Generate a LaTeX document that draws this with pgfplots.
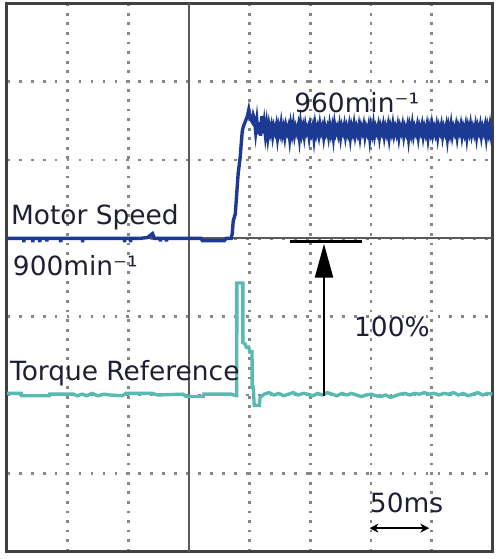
\documentclass[border=0pt]{standalone}
\usepackage{pgfplots}
\pgfplotsset{compat=1.18}
\usepackage{fontspec}
\setmainfont{DejaVu Sans}
\usetikzlibrary{arrows.meta}
\definecolor{spd}{RGB}{28,58,148}
\definecolor{trq}{RGB}{88,186,176}
\definecolor{frm}{RGB}{65,65,65}
\definecolor{ctr}{RGB}{90,90,90}
\definecolor{grd}{RGB}{135,135,135}
\definecolor{txt}{RGB}{30,32,50}
\newcommand\lf{\fontsize{26.5}{31}\selectfont}
\tikzset{lbl/.style={font=\lf, text=txt, inner sep=0pt, anchor=base west}}
\begin{document}
\begin{tikzpicture}
\begin{axis}[
  scale only axis, width=487pt, height=550pt,
  xmin=0, xmax=400, ymin=0, ymax=7,
  xtick={0,50,...,400}, ytick={0,1,...,7},
  xticklabels={}, yticklabels={},
  major tick length=0pt,
  grid=major,
  x grid style={grd, line width=2.8pt, dash pattern=on 2.8pt off 6.8pt},
  y grid style={grd, line width=2.8pt, dash pattern=on 2.8pt off 9.2pt},
  axis line style={frm, line width=3pt},
  clip=false,
]
% solid centre lines
\draw[ctr, line width=2.2pt] (axis cs:150,0) -- (axis cs:150,7);
\draw[ctr, line width=2.2pt] (axis cs:0,4) -- (axis cs:400,4);

% Torque reference
\addplot[trq, line width=3.4pt, mark=none] coordinates {
(0,2.02)(12,2.02)(12.3,1.99)(35,1.99)(35.3,2.01)(55,2.01)(58,1.99)(62,2.01)(66,1.99)(70,2.02)(75,1.99)(80,2.01)(85,2.00)(95,1.99)(98,2.02)(120,2.02)(124,2.00)(145,2.01)(148,1.98)(162,1.98)(162.3,2.01)(185,2.01)(189,1.99)(189.4,1.99)
(189.5,3.43)(194.4,3.43)(194.5,2.67)(196.4,2.65)(197.2,2.61)(199.3,2.61)(200.1,2.55)(202.0,2.55)(202.1,2.10)(203.0,2.10)(203.8,1.865)(207.9,1.865)(208.7,1.97)(210.3,1.99)
(212,2.01)(216,2.03)(220,2.00)(224,2.02)(228,1.99)(232,2.01)(236,2.03)(240,2.00)(244,2.02)(248,2.01)(252,1.99)(256,2.02)(260,2.00)(264,2.03)(268,2.01)(272,1.99)(276,2.02)(280,2.00)(284,2.02)(288,2.00)(292,1.98)(296,2.00)(300,2.01)(304,1.99)(308,1.98)(312,2.00)(316,1.97)(320,1.99)(324,2.01)(328,2.02)(332,2.00)(336,2.02)(340,2.01)(344,2.03)(348,2.01)(352,2.02)(356,2.00)(360,2.02)(364,2.01)(368,2.03)(372,2.00)(376,2.02)(380,1.99)(384,2.01)(388,2.03)(392,2.00)(396,2.02)(400,2.01)
};

% Motor speed
\addplot[spd, line width=3.4pt, mark=none] coordinates {
(0,4.0)(13.8,4.0)(14.0,3.95)(14.3,4.0)(21.2,4.0)(21.4,3.95)(21.7,4.0)(26.9,4.0)(27.1,3.95)(27.4,4.0)(32.7,4.0)(32.9,3.96)(33.2,4.0)(44.2,4.0)(44.4,3.95)(44.7,4.0)(62.2,4.0)(62.4,3.95)(62.7,4.0)(96.8,4.0)(97.0,3.95)(97.3,4.0)(101.7,4.0)(101.9,3.95)(102.2,4.0)(110,4.0)(115.9,4.01)(120.0,4.06)(121.6,4.0)(126.3,4.0)(126.5,3.96)(126.8,4.0)(131.3,4.0)(131.5,3.96)(131.8,4.0)(160,4.0)(161.1,3.97)(179.1,3.97)(180.8,4.0)(184.9,4.0)
(185.7,4.06)(186.5,4.22)(188.2,4.31)(189.8,4.66)(190.6,4.83)(192.3,5.04)(193.1,5.21)(193.9,5.36)(194.7,5.42)(196.4,5.49)(198.0,5.55)(199.3,5.64)(200.5,5.53)(202.1,5.49)(203.0,5.57)
(204.0,5.52)(205.0,5.36)(206.0,5.50)(207.0,5.33)(208.0,5.48)(209.0,5.31)(210.0,5.56)(211.0,5.34)(212.0,5.47)(213.0,5.32)(214.0,5.45)(215.0,5.30)(216.0,5.44)(217.0,5.35)(218.0,5.43)(219.0,5.31)(220.0,5.42)(221.0,5.36)(222.0,5.44)(223.0,5.29)(224.0,5.42)(225.0,5.35)(226.0,5.46)(227.0,5.33)(228.0,5.41)(229.0,5.30)(230.0,5.43)(231.0,5.36)(232.0,5.42)(233.0,5.28)(234.0,5.44)(235.0,5.34)(236.0,5.45)(237.0,5.32)(238.0,5.41)(239.0,5.35)(240.0,5.43)(241.0,5.29)(242.0,5.46)(243.0,5.34)(244.0,5.42)(245.0,5.31)(246.0,5.44)(247.0,5.36)(248.0,5.41)(249.0,5.30)(250.0,5.43)(251.0,5.35)(252.0,5.42)(253.0,5.28)(254.0,5.44)(255.0,5.34)(256.0,5.41)(257.0,5.32)(258.0,5.45)(259.0,5.36)(260.0,5.42)(261.0,5.30)(262.0,5.43)(263.0,5.35)(264.0,5.41)(265.0,5.31)(266.0,5.44)(267.0,5.34)(268.0,5.42)(269.0,5.29)(270.0,5.45)(271.0,5.35)(272.0,5.41)(273.0,5.33)(274.0,5.43)(275.0,5.30)(276.0,5.42)(277.0,5.36)(278.0,5.44)(279.0,5.31)(280.0,5.41)(281.0,5.34)(282.0,5.43)(283.0,5.29)(284.0,5.42)(285.0,5.35)(286.0,5.45)(287.0,5.32)(288.0,5.41)(289.0,5.34)(290.0,5.43)(291.0,5.30)(292.0,5.42)(293.0,5.36)(294.0,5.44)(295.0,5.31)(296.0,5.41)(297.0,5.35)(298.0,5.43)(299.0,5.28)(300.0,5.42)(301.0,5.34)(302.0,5.45)(303.0,5.32)(304.0,5.41)(305.0,5.35)(306.0,5.43)(307.0,5.30)(308.0,5.42)(309.0,5.36)(310.0,5.44)(311.0,5.31)(312.0,5.41)(313.0,5.34)(314.0,5.43)(315.0,5.29)(316.0,5.42)(317.0,5.35)(318.0,5.45)(319.0,5.33)(320.0,5.41)(321.0,5.34)(322.0,5.43)(323.0,5.30)(324.0,5.42)(325.0,5.36)(326.0,5.44)(327.0,5.31)(328.0,5.41)(329.0,5.35)(330.0,5.43)(331.0,5.28)(332.0,5.42)(333.0,5.34)(334.0,5.45)(335.0,5.32)(336.0,5.41)(337.0,5.35)(338.0,5.43)(339.0,5.30)(340.0,5.42)(341.0,5.36)(342.0,5.44)(343.0,5.31)(344.0,5.41)(345.0,5.34)(346.0,5.43)(347.0,5.29)(348.0,5.42)(349.0,5.35)(350.0,5.45)(351.0,5.33)(352.0,5.41)(353.0,5.34)(354.0,5.43)(355.0,5.30)(356.0,5.42)(357.0,5.36)(358.0,5.44)(359.0,5.31)(360.0,5.41)(361.0,5.35)(362.0,5.43)(363.0,5.28)(364.0,5.42)(365.0,5.34)(366.0,5.45)(367.0,5.32)(368.0,5.41)(369.0,5.35)(370.0,5.43)(371.0,5.30)(372.0,5.42)(373.0,5.36)(374.0,5.44)(375.0,5.31)(376.0,5.41)(377.0,5.34)(378.0,5.43)(379.0,5.29)(380.0,5.42)(381.0,5.35)(382.0,5.45)(383.0,5.33)(384.0,5.41)(385.0,5.34)(386.0,5.43)(387.0,5.30)(388.0,5.42)(389.0,5.36)(390.0,5.44)(391.0,5.31)(392.0,5.41)(393.0,5.35)(394.0,5.43)(395.0,5.29)(396.0,5.42)(397.0,5.34)(398.0,5.44)(399.0,5.32)(400.0,5.40)
};

% annotations
\draw[black, line width=3.2pt] (axis cs:233.4,3.96) -- (axis cs:292.5,3.96);
\draw[black, line width=2.4pt, -{Triangle[length=34pt,width=18pt]}] (axis cs:261.3,1.99) -- (axis cs:261.3,3.93);
\draw[black, line width=1.8pt, {Stealth[length=9pt,width=9pt]}-{Stealth[length=9pt,width=9pt]}] (axis cs:298.8,0.30) -- (axis cs:348.0,0.30);

\node[lbl] at (axis cs:3.3,4.17) {Motor Speed};
\node[lbl] at (axis cs:4.9,3.53) {900min⁻¹};
\node[lbl] at (axis cs:236.7,5.61) {960min⁻¹};
\node[lbl] at (axis cs:2.5,2.18) {Torque Reference};
\node[lbl] at (axis cs:286.0,2.75) {100\%};
\node[lbl] at (axis cs:299.0,0.50) {50ms};

\coordinate (bbA) at (axis cs:-3.3,7.02);
\coordinate (bbB) at (axis cs:407.6,-0.094);
\end{axis}
\path (bbA) rectangle (bbB);
\end{tikzpicture}
\end{document}
